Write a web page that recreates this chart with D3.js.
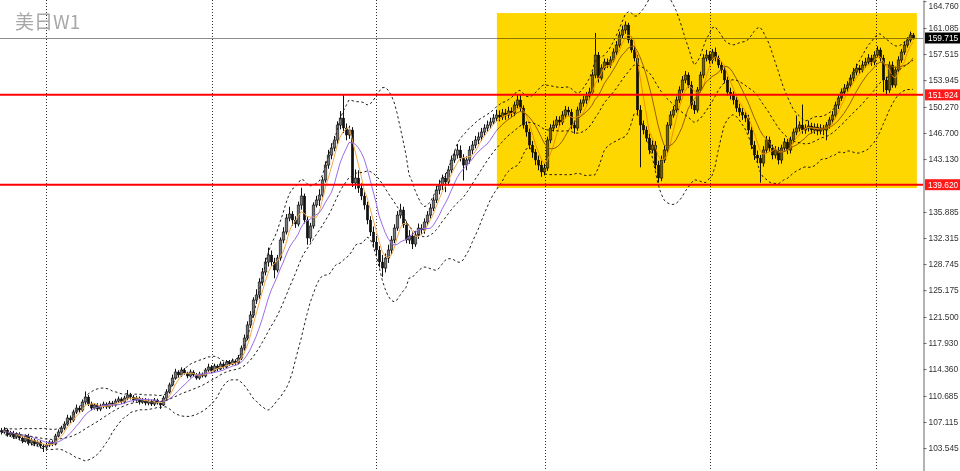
<!DOCTYPE html>
<html><head><meta charset="utf-8">
<script src="https://cdn.jsdelivr.net/npm/d3@7"></script>
<style>html,body{margin:0;padding:0;background:#fff;overflow:hidden}</style>
</head><body>
<svg id="c" width="960" height="471"></svg>
<script>
// ---- data (weekly candles) ----
const firstOpen = 105.90;
const closes = [
105.74,106.01,105.33,105.60,105.05,105.46,104.92,104.50,105.19,104.23,104.64,104.09,104.37,103.82,103.68,
103.96,104.37,104.09,105.19,105.74,
106.28,106.83,107.66,107.38,108.48,109.02,108.75,109.85,110.53,109.57,
109.02,109.44,108.89,109.30,109.57,109.16,109.71,109.44,109.98,110.26,
109.85,110.39,110.81,110.53,110.12,110.39,109.85,110.12,109.71,109.98,
109.57,110.12,109.71,109.44,110.39,111.22,112.18,113.13,113.96,113.55,
114.23,113.82,113.41,113.96,113.55,113.13,113.68,113.41,114.23,114.64,
114.09,114.78,114.37,115.05,114.64,115.33,115.05,115.46,115.19,115.87,
117.24,118.61,120.40,121.77,123.82,124.51,126.29,127.66,129.03,129.99,
129.03,127.93,129.57,132.04,133.14,135.05,135.60,134.78,134.23,136.83,
138.07,134.78,132.31,133.96,136.83,137.52,138.20,140.26,142.31,143.68,
144.64,145.74,147.79,148.75,147.38,146.42,147.11,139.85,140.53,139.16,
138.07,136.83,134.78,133.14,131.77,130.67,129.03,128.20,129.57,130.67,
132.04,133.68,135.46,136.15,134.09,132.04,132.59,131.49,132.72,133.68,
133.41,134.50,135.46,136.42,137.52,138.89,139.57,140.53,139.98,141.63,
143.00,143.68,144.37,143.27,142.31,143.00,144.37,145.05,145.74,146.15,
146.83,147.38,147.79,148.20,148.75,149.16,148.89,149.44,149.16,149.71,
149.44,150.53,151.22,150.12,147.79,146.83,145.05,144.09,143.00,142.31,
141.36,141.90,145.74,147.38,147.79,148.48,148.20,149.16,149.85,149.57,
147.79,147.38,149.85,150.81,151.22,151.77,152.31,154.64,157.38,154.23,
155.60,156.42,156.01,156.70,157.79,158.75,160.12,160.81,161.49,159.44,
158.07,156.97,149.85,147.79,147.11,146.01,144.37,145.05,142.31,140.53,
143.00,144.37,147.79,149.16,149.85,151.22,152.59,153.96,154.64,153.27,
150.53,149.85,152.59,154.64,156.97,157.38,156.70,157.79,156.97,156.01,
155.33,153.96,152.31,151.90,151.22,150.12,149.57,149.16,148.75,147.11,
145.05,143.68,143.27,142.59,144.37,145.74,144.64,143.68,144.37,143.00,
144.64,145.46,144.37,145.74,146.83,147.38,147.79,147.11,147.38,147.66,
147.11,147.52,146.97,147.38,147.11,147.79,148.48,149.16,150.53,151.49,
152.31,152.86,153.27,154.23,155.05,155.60,155.33,156.01,156.42,156.97,
156.42,157.38,158.07,156.97,153.96,152.59,156.01,153.27,155.33,156.70,
157.79,158.75,159.44,160.12,159.71];
const highs = [
106.3,106.4,106.2,105.9,105.9,105.7,105.7,105.2,105.4,105.5,104.9,104.8,104.6,104.6,104.1,
104.3,104.6,104.6,105.5,106.1,
106.6,107.2,108.1,108.0,108.8,109.5,109.3,110.2,111.3,110.8,
109.9,109.7,109.7,109.6,109.9,109.8,110.0,110.0,110.3,110.6,
110.5,110.7,111.5,111.1,110.8,110.7,110.6,110.4,110.4,110.3,
110.2,110.4,110.3,109.9,110.7,111.6,112.5,113.6,114.4,114.2,
114.6,114.5,114.0,114.3,114.2,113.8,114.0,113.9,114.5,115.1,
114.9,115.1,115.0,115.4,115.3,115.6,115.6,115.8,115.7,116.3,
117.6,119.1,120.9,122.3,124.2,125.3,126.8,128.2,129.6,131.0,
130.6,129.6,130.0,132.4,133.8,135.6,136.6,136.0,135.3,137.3,
139.2,138.4,135.3,134.4,137.2,138.1,139.0,140.7,142.8,144.4,
145.3,146.3,148.3,149.7,151.9,148.0,147.7,147.5,141.7,141.6,
139.8,138.7,137.3,135.3,133.9,132.6,131.2,130.0,130.2,131.4,
132.6,134.2,136.0,137.0,136.6,134.6,133.4,133.2,133.3,134.3,
134.2,135.0,136.0,137.0,138.0,139.5,140.3,141.0,141.2,142.2,
143.6,144.3,145.2,145.0,143.8,143.5,144.9,145.6,146.3,146.8,
147.4,147.9,148.4,148.8,149.3,149.9,149.8,150.0,150.0,150.3,
150.2,151.0,151.9,151.9,150.5,148.3,147.3,145.6,144.5,143.6,
142.9,142.5,146.2,147.9,148.4,149.0,149.0,149.7,150.4,150.3,
150.0,148.4,150.3,151.3,151.8,152.3,152.9,155.1,160.4,157.8,
156.1,156.9,156.9,157.2,158.3,159.3,160.6,161.4,162.0,161.8,
159.8,158.6,157.4,150.5,148.4,147.6,146.6,145.7,145.6,142.9,
143.6,145.0,148.2,149.7,150.4,151.7,153.1,154.5,155.2,155.0,
153.8,151.1,153.0,155.1,157.5,158.1,157.9,158.2,158.4,157.3,
156.5,155.8,154.4,152.9,152.4,151.7,150.7,150.1,149.7,149.2,
147.6,145.6,144.3,143.7,144.9,146.3,146.2,145.1,144.9,144.8,
145.1,146.0,145.9,146.2,147.3,149.1,148.3,150.6,147.9,148.4,
148.1,148.0,148.0,147.9,147.8,148.2,148.9,149.7,151.0,152.0,
152.8,153.4,153.8,154.7,155.6,156.2,156.0,156.6,157.0,157.5,
157.4,157.9,158.6,158.4,157.4,154.4,156.5,156.5,155.8,157.2,
158.2,159.2,159.8,160.6,160.4];
const lows = [
105.4,105.5,105.1,105.1,104.8,104.8,104.6,104.2,104.3,103.9,103.9,103.8,103.8,103.5,103.0,
103.4,103.7,103.8,103.9,105.0,
105.5,106.0,106.6,107.0,107.1,108.2,108.4,108.5,109.5,109.3,
108.7,108.8,108.6,108.6,109.0,108.9,108.9,109.2,109.2,109.7,
109.6,109.6,110.1,110.2,109.8,109.9,109.5,109.6,109.4,109.4,
109.3,109.3,109.5,108.9,109.3,110.1,111.0,112.0,112.9,113.2,
113.3,113.6,113.1,113.2,113.3,112.9,112.9,113.2,113.2,114.0,
113.8,113.9,114.1,114.2,114.4,114.5,114.8,114.9,114.9,115.0,
115.6,116.9,118.3,120.0,121.4,123.3,124.0,125.8,127.2,128.4,
128.5,126.8,127.6,129.2,131.6,132.8,134.6,134.0,133.7,133.9,
136.2,134.3,131.4,131.7,133.6,136.5,136.7,137.9,139.9,141.8,
143.1,144.2,145.2,147.2,146.7,145.7,145.9,139.3,139.0,138.5,
137.5,136.2,134.2,132.6,131.0,129.9,128.3,127.0,127.6,128.9,
130.1,131.6,133.3,135.0,133.7,131.6,131.5,130.8,131.1,132.2,
132.8,132.9,134.0,135.0,136.0,137.1,138.3,138.9,138.6,139.5,
141.2,142.6,143.2,142.8,140.2,141.6,142.5,143.8,144.6,145.2,
145.6,146.3,146.9,147.3,147.8,148.3,148.3,148.5,148.5,148.7,
148.9,149.0,150.1,149.6,147.3,146.2,144.5,143.3,142.3,141.6,
140.7,140.9,141.5,145.3,146.9,147.4,147.6,147.8,148.7,149.0,
147.2,146.6,147.0,149.4,150.3,150.7,151.2,152.0,154.2,153.6,
153.9,155.3,155.6,155.6,156.4,157.4,158.4,159.7,160.3,159.0,
157.7,156.5,149.2,142.0,146.5,145.5,143.8,143.9,141.7,139.9,
140.1,142.6,144.0,147.3,148.8,149.5,150.8,152.2,153.5,152.9,
150.0,149.3,149.5,152.2,154.2,156.5,156.2,156.2,156.5,155.6,
154.9,153.5,151.8,151.3,150.6,149.6,149.0,148.5,148.2,146.6,
144.5,143.0,142.6,139.9,142.1,143.9,144.1,143.1,143.2,142.4,
142.5,144.1,143.8,143.9,145.3,146.4,146.9,146.6,146.6,146.9,
146.6,146.6,146.4,146.5,146.4,145.7,147.3,148.0,148.8,150.0,
151.1,151.9,152.4,152.9,153.8,154.6,154.8,155.0,155.6,156.0,
155.9,156.0,157.0,156.5,152.3,151.9,152.2,152.9,152.9,155.0,
156.3,157.4,158.4,159.1,159.5];

const yTicks = [164.760,161.085,157.515,153.945,150.270,146.700,143.130,135.885,132.315,128.745,125.175,121.500,117.930,114.360,110.685,107.115,103.545];
const levelLines = [151.924, 139.620];
const lastPrice = 159.715;
const boxPrices = [163.13, 139.16];
const boxIndex = [165.3, 305.3];
const gridIndex = [15, 70.3, 125, 181.3, 236.3, 291.7];
const titleText = "美日W1";
const fastPeriod = 5, slowPeriod = 10, bbPeriod = 20, bbDev = 2;

// ---- derived ----
const opens = closes.map((c, i) => i === 0 ? firstOpen : closes[i - 1]);
const n = closes.length;

const W = 960, H = 471, axisX = 923;
const svg = d3.select("#c");
const x = d3.scaleLinear().domain([0, n - 1]).range([1, 913]);
const y = d3.scaleLinear().domain([100.40, 164.92]).range([H, 0]);

function sma(p) {
  return closes.map((c, i) => d3.mean(closes.slice(Math.max(0, i - p + 1), i + 1)));
}
function bands(p, k) {
  const mid = [], up = [], lo = [];
  closes.forEach((c, i) => {
    const w = closes.slice(Math.max(0, i - p + 1), i + 1);
    const m = d3.mean(w);
    const sd = Math.sqrt(d3.mean(w, v => (v - m) * (v - m)));
    mid.push(m); up.push(m + k * sd); lo.push(m - k * sd);
  });
  return {mid, up, lo};
}

svg.append("rect").attr("width", W).attr("height", H).attr("fill", "#fff");

svg.append("defs").append("clipPath").attr("id", "plot")
  .append("rect").attr("x", 0).attr("y", 0).attr("width", axisX).attr("height", H);

const plot = svg.append("g").attr("clip-path", "url(#plot)");

// vertical grid
plot.selectAll("line.grid").data(gridIndex).join("line")
  .attr("class", "grid")
  .attr("x1", d => Math.round(x(d)) + 0.5).attr("x2", d => Math.round(x(d)) + 0.5)
  .attr("y1", 0).attr("y2", H)
  .attr("stroke", "#333").attr("stroke-width", 1).attr("stroke-dasharray", "1,2");

// candles
const cg = plot.append("g");
d3.range(n).forEach(i => {
  const cx = Math.round(x(i));
  const o = opens[i], c = closes[i];
  cg.append("line")
    .attr("x1", cx + 0.5).attr("x2", cx + 0.5)
    .attr("y1", y(highs[i])).attr("y2", y(lows[i]))
    .attr("stroke", "#111").attr("stroke-width", 1);
  const top = y(Math.max(o, c)), bot = y(Math.min(o, c));
  cg.append("rect")
    .attr("x", cx - 0.8).attr("width", 2.6)
    .attr("y", top).attr("height", Math.max(1, bot - top))
    .attr("fill", c >= o ? "#777" : "#111")
    .attr("stroke", "#111").attr("stroke-width", c >= o ? 0.6 : 0.3);
});

const line = d3.line().x((d, i) => x(i)).y(d => y(d));
const bb = bands(bbPeriod, bbDev);

plot.append("path").datum(sma(fastPeriod)).attr("d", line)
  .attr("fill", "none").attr("stroke", "#f4a94a").attr("stroke-width", 1);
plot.append("path").datum(sma(slowPeriod)).attr("d", line)
  .attr("fill", "none").attr("stroke", "#9a6ee6").attr("stroke-width", 1);

[bb.up, bb.mid, bb.lo].forEach(arr => {
  plot.append("path").datum(arr).attr("d", line)
    .attr("fill", "none").attr("stroke", "#222").attr("stroke-width", 1)
    .attr("stroke-dasharray", "2.5,2.5");
});

// current price line
plot.append("line").attr("x1", 0).attr("x2", axisX)
  .attr("y1", Math.round(y(lastPrice)) + 0.5).attr("y2", Math.round(y(lastPrice)) + 0.5)
  .attr("stroke", "#8c8c8c").attr("stroke-width", 1);

// red levels
plot.selectAll("line.lvl").data(levelLines).join("line")
  .attr("class", "lvl")
  .attr("x1", 0).attr("x2", axisX)
  .attr("y1", d => y(d)).attr("y2", d => y(d))
  .attr("stroke", "#ff0000").attr("stroke-width", 2);

// yellow rectangle (multiply so marks stay visible)
svg.append("rect")
  .attr("x", x(boxIndex[0])).attr("width", x(boxIndex[1]) - x(boxIndex[0]))
  .attr("y", y(boxPrices[0])).attr("height", y(boxPrices[1]) - y(boxPrices[0]))
  .attr("fill", "#ffd700").style("mix-blend-mode", "multiply");

// title
svg.append("text").attr("x", 15).attr("y", 29).text(titleText)
  .attr("font-family", "'Noto Sans CJK SC', 'Noto Sans', sans-serif")
  .attr("font-size", 19).attr("fill", "#a8a8a8");

// right axis
const fmt = d3.format(".3f");
const ax = svg.append("g").attr("transform", `translate(${axisX + 0.5},0)`)
  .call(d3.axisRight(y).tickValues(yTicks).tickSize(3).tickSizeOuter(0).tickFormat(fmt));
ax.select(".domain").attr("stroke", "#666");
ax.selectAll(".tick line").attr("stroke", "#666");
ax.selectAll(".tick text").attr("x", 5)
  .attr("font-family", "'Liberation Sans', Arial, sans-serif").attr("font-size", 8.4).attr("fill", "#333")
  .attr("dy", d => y(d) < 5 ? "0.9em" : "0.32em");

// price labels
function priceLabel(v, bg) {
  const g = svg.append("g");
  g.append("rect").attr("x", axisX + 2).attr("width", W - axisX - 2)
    .attr("y", y(v) - 5.5).attr("height", 11).attr("fill", bg);
  g.append("text").attr("x", axisX + 5).attr("y", y(v)).attr("dy", "0.34em")
    .text(fmt(v)).attr("fill", "#fff")
    .attr("font-family", "'Liberation Sans', Arial, sans-serif").attr("font-size", 8.4);
}
levelLines.forEach(v => priceLabel(v, "#ff1a1a"));
priceLabel(lastPrice, "#000");
</script>
</body></html>
